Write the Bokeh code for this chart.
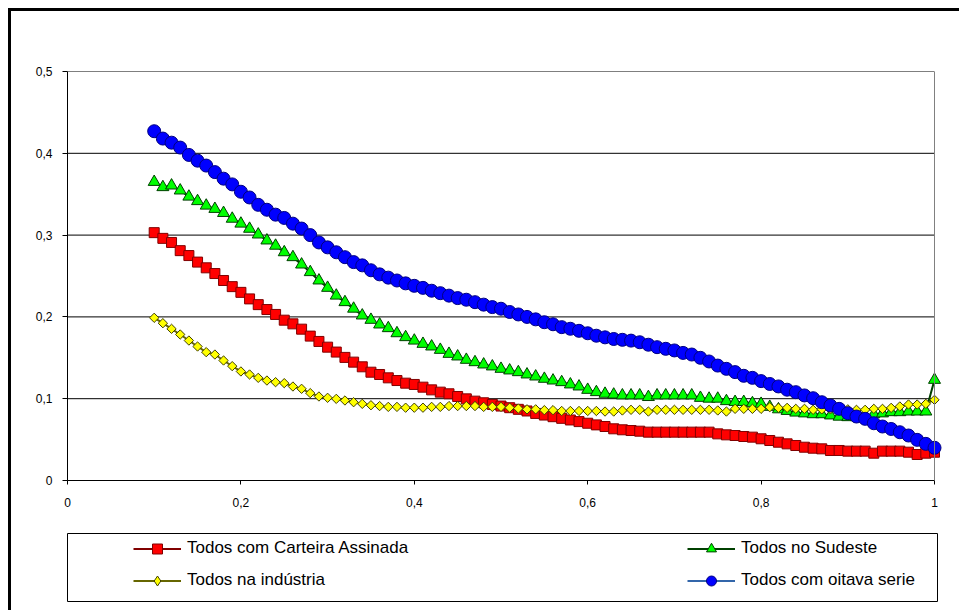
import math
from bokeh.plotting import figure
from bokeh.layouts import column, row
from bokeh.models import Range1d, FixedTicker, Legend, LegendItem, Span, Div, Spacer
from bokeh.embed import file_html
from bokeh.resources import INLINE

# ---------------- data ----------------
x = [0.10, 0.11, 0.12, 0.13, 0.14, 0.15, 0.16, 0.17, 0.18, 0.19,
     0.20, 0.21, 0.22, 0.23, 0.24, 0.25, 0.26, 0.27, 0.28, 0.29,
     0.30, 0.31, 0.32, 0.33, 0.34, 0.35, 0.36, 0.37, 0.38, 0.39,
     0.40, 0.41, 0.42, 0.43, 0.44, 0.45, 0.46, 0.47, 0.48, 0.49,
     0.50, 0.51, 0.52, 0.53, 0.54, 0.55, 0.56, 0.57, 0.58, 0.59,
     0.60, 0.61, 0.62, 0.63, 0.64, 0.65, 0.66, 0.67, 0.68, 0.69,
     0.70, 0.71, 0.72, 0.73, 0.74, 0.75, 0.76, 0.77, 0.78, 0.79,
     0.80, 0.81, 0.82, 0.83, 0.84, 0.85, 0.86, 0.87, 0.88, 0.89,
     0.90, 0.91, 0.92, 0.93, 0.94, 0.95, 0.96, 0.97, 0.98, 0.99, 1.00]

carteira = [0.303, 0.296, 0.291, 0.281, 0.275, 0.267, 0.260, 0.253, 0.2445, 0.237,
            0.230, 0.222, 0.215, 0.209, 0.203, 0.196, 0.1915, 0.185, 0.1765, 0.170,
            0.163, 0.157, 0.1505, 0.1447, 0.139, 0.1324, 0.1296, 0.1255, 0.1222, 0.119,
            0.1174, 0.1141, 0.1108, 0.108, 0.106, 0.1027, 0.0998, 0.097, 0.095, 0.093,
            0.091, 0.089, 0.087, 0.085, 0.082, 0.080, 0.078, 0.076, 0.074, 0.072,
            0.070, 0.068, 0.066, 0.0632, 0.062, 0.0611, 0.0603, 0.0591, 0.0591, 0.0591,
            0.0591, 0.0591, 0.0591, 0.0591, 0.0591, 0.057, 0.0558, 0.055, 0.0538, 0.053,
            0.051, 0.0489, 0.0468, 0.0448, 0.0428, 0.0407, 0.0395, 0.0387, 0.0367, 0.0367,
            0.0359, 0.0359, 0.0359, 0.0334, 0.0359, 0.0359, 0.0359, 0.0346, 0.0318, 0.0334, 0.0346]

sudeste = [0.365, 0.3586, 0.3606, 0.3545, 0.347, 0.3415, 0.336, 0.332, 0.327, 0.320,
           0.314, 0.3077, 0.3007, 0.2934, 0.287, 0.279, 0.273, 0.264, 0.2547, 0.2445,
           0.2355, 0.226, 0.218, 0.210, 0.2017, 0.1964, 0.1907, 0.1862, 0.180, 0.1752,
           0.171, 0.167, 0.1638, 0.1597, 0.1548, 0.1516, 0.1475, 0.1446, 0.1418, 0.1394,
           0.1365, 0.1345, 0.1324, 0.1296, 0.1271, 0.1243, 0.1222, 0.1202, 0.1174, 0.1149,
           0.1108, 0.108, 0.106, 0.105, 0.104, 0.104, 0.104, 0.102, 0.104, 0.104,
           0.104, 0.104, 0.104, 0.101, 0.100, 0.100, 0.097, 0.096, 0.096, 0.0945,
           0.0937, 0.090, 0.087, 0.085, 0.083, 0.082, 0.081, 0.081, 0.0795, 0.078,
           0.0774, 0.0774, 0.0795, 0.081, 0.082, 0.0835, 0.0835, 0.0843, 0.0843, 0.0843, 0.123]

industria = [0.1989, 0.1923, 0.1854, 0.1785, 0.1711, 0.1638, 0.1569, 0.154, 0.1467, 0.1398,
             0.1333, 0.1296, 0.1255, 0.1222, 0.1202, 0.119, 0.1149, 0.1121, 0.1068, 0.1027,
             0.1011, 0.0998, 0.0978, 0.0957, 0.0937, 0.092, 0.091, 0.090, 0.090, 0.089,
             0.089, 0.089, 0.090, 0.090, 0.091, 0.091, 0.091, 0.091, 0.090, 0.090,
             0.090, 0.089, 0.088, 0.087, 0.087, 0.086, 0.086, 0.085, 0.085, 0.085,
             0.085, 0.085, 0.0843, 0.0843, 0.0856, 0.0864, 0.0864, 0.0843, 0.0864, 0.0864,
             0.0864, 0.0864, 0.0864, 0.0864, 0.0864, 0.0856, 0.0843, 0.0876, 0.0876, 0.0876,
             0.0876, 0.0896, 0.0888, 0.0888, 0.0876, 0.0876, 0.0864, 0.087, 0.087, 0.087,
             0.087, 0.0864, 0.0864, 0.0876, 0.0876, 0.0888, 0.0905, 0.0929, 0.0929, 0.0937, 0.0986]

oitava = [0.427, 0.418, 0.413, 0.407, 0.398, 0.391, 0.385, 0.377, 0.369, 0.362,
          0.353, 0.346, 0.337, 0.331, 0.325, 0.321, 0.314, 0.308, 0.300, 0.291,
          0.285, 0.279, 0.273, 0.267, 0.263, 0.257, 0.252, 0.248, 0.2445, 0.241,
          0.238, 0.2355, 0.232, 0.229, 0.226, 0.223, 0.221, 0.218, 0.215, 0.212,
          0.210, 0.206, 0.203, 0.200, 0.197, 0.1935, 0.191, 0.1875, 0.1855, 0.183,
          0.180, 0.177, 0.175, 0.173, 0.172, 0.171, 0.169, 0.166, 0.163, 0.161,
          0.159, 0.156, 0.154, 0.150, 0.1455, 0.1405, 0.1365, 0.1325, 0.128, 0.1255,
          0.1215, 0.118, 0.115, 0.111, 0.108, 0.104, 0.1006, 0.0957, 0.0917, 0.0876,
          0.0823, 0.0782, 0.0754, 0.070, 0.066, 0.063, 0.059, 0.055, 0.0497, 0.0448, 0.040]

series_names = ["Todos com Carteira Assinada", "Todos no Sudeste",
                "Todos na indústria", "Todos com oitava serie"]

y_ticks = [0, 0.1, 0.2, 0.3, 0.4, 0.5]
y_labels = ["0", "0,1", "0,2", "0,3", "0,4", "0,5"]
x_ticks = [0, 0.2, 0.4, 0.6, 0.8, 1]
x_labels = ["0", "0,2", "0,4", "0,6", "0,8", "1"]
grid_levels = [0.1, 0.2, 0.3, 0.4, 0.5]

FONT = "Liberation Sans"

# ---------------- chart figure ----------------
p = figure(frame_width=884, frame_height=409, output_backend="svg", toolbar_location=None,
           x_range=Range1d(0, 884 / 867), y_range=Range1d(0, 0.5),
           min_border_left=56, min_border_right=8, min_border_top=60, min_border_bottom=51)
p.xgrid.visible = False
p.ygrid.visible = False
p.outline_line_color = None
p.background_fill_color = "white"
p.border_fill_color = "white"

for ax, ticks, labels in ((p.xaxis[0], x_ticks, x_labels), (p.yaxis[0], y_ticks, y_labels)):
    ax.ticker = FixedTicker(ticks=ticks)
    ax.major_label_overrides = {t: l for t, l in zip(ticks, labels)}
    ax.axis_line_color = "black"
    ax.axis_line_width = 1
    ax.major_tick_line_color = "black"
    ax.major_tick_in = 0
    ax.minor_tick_line_color = None
    ax.major_label_text_font = FONT
    ax.major_label_text_font_size = "12px"
    ax.major_label_text_color = "black"

p.xaxis.bounds = (0, 1)
p.xaxis.major_tick_out = 4
p.xaxis.major_label_standoff = 13
p.yaxis.major_tick_out = 5
p.yaxis.major_label_standoff = 10

# horizontal gridlines (0..1) and right edge of the plot area
p.segment(x0=x_ticks[0], x1=x_ticks[-1], y0=grid_levels, y1=grid_levels,
          line_color="black", line_width=1, level="underlay")
p.add_layout(Span(location=x_ticks[-1], dimension="height", line_color="#808080", line_width=1))

# ---------------- series ----------------
# (values, plot marker, plot size, plot angle, legend marker, fill, edge, line colour)
specs = [
    (carteira, "square", 10, 0, "square", "#FF0000", "#800000", "#800000"),
    (sudeste, "triangle", 12, 0, "triangle", "#00FF00", "#004000", "#004000"),
    (industria, "square", 6.6, math.pi / 4, "diamond", "#FFFF00", "#404000", "#666600"),
    (oitava, "circle", 13, 0, "circle", "#0000FF", "#000080", "#3366AA"),
]
for ys, marker, size, ang, lmarker, fill, edge, lcol in specs:
    p.line(x, ys, line_color=lcol, line_width=2)
    p.scatter(x, ys, marker=marker, size=size, angle=ang, fill_color=fill,
              line_color=edge, line_width=1)

# ---------------- legend figure (its frame is the legend box) ----------------
# its ranges lie outside the data, so only the legend swatches show
lp = figure(frame_width=870, frame_height=68, output_backend="svg", toolbar_location=None,
            x_range=Range1d(5, 6), y_range=Range1d(5, 6),
            x_axis_type=None, y_axis_type=None,
            min_border_left=56, min_border_right=22, min_border_top=2, min_border_bottom=7)
lp.xgrid.visible = False
lp.ygrid.visible = False
lp.outline_line_color = "black"
lp.outline_line_width = 1
lp.background_fill_color = "white"
lp.border_fill_color = "white"

items = []
for (ys, marker, size, ang, lmarker, fill, edge, lcol), name in zip(specs, series_names):
    lr = lp.line(x, ys, line_color=lcol, line_width=2)
    sr = lp.scatter(x, ys, marker=lmarker, size=10, angle=0, fill_color=fill,
                    line_color=edge, line_width=1)
    items.append(LegendItem(label=name, renderers=[lr, sr]))

def make_legend(its, vx):
    lg = Legend(items=its, location=(vx, 8.5), orientation="vertical",
                glyph_width=48, glyph_height=25, label_height=25, spacing=7,
                padding=0, margin=0, label_standoff=6,
                border_line_color=None, background_fill_alpha=0,
                label_text_font=FONT, label_text_font_size="17px",
                label_text_color="black")
    lp.add_layout(lg)

make_legend([items[0], items[2]], 66)
make_legend([items[1], items[3]], 620)

# ---------------- outer chart border (left and top) ----------------
top_bar = Div(text="", width=951, height=3, margin=0, styles={"background-color": "black"})
left_bar = Div(text="", width=3, height=599, margin=0, styles={"background-color": "black"})

layout = column(
    Spacer(width=959, height=8, margin=0),
    row(Spacer(width=8, height=3, margin=0), top_bar, margin=0),
    row(Spacer(width=8, height=599, margin=0), left_bar, column(p, lp, margin=0), margin=0),
    margin=0,
)

open("out.html", "w").write(file_html(layout, INLINE))
